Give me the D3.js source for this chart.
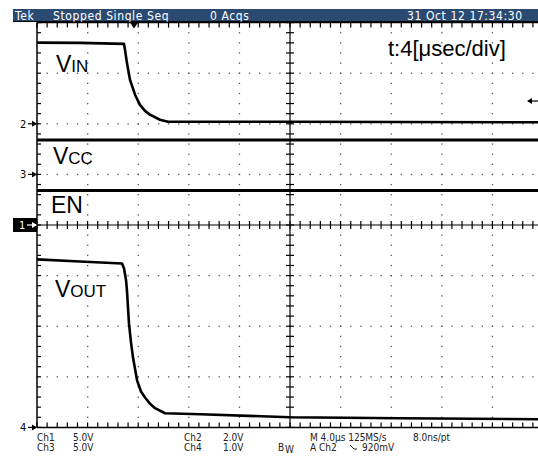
<!DOCTYPE html>
<html>
<head>
<meta charset="utf-8">
<script src="https://cdn.jsdelivr.net/npm/d3@7"></script>
<style>
  body { margin: 0; background: #fff; }
  svg { display: block; }
  .hdr { font-family: "Liberation Sans Narrow", "DejaVu Sans Condensed", sans-serif; font-size: 12px; fill: #fff; letter-spacing: 0.6px; }
  .foot { font-family: "Liberation Sans Narrow", "DejaVu Sans Condensed", sans-serif; font-size: 10px; fill: #222; }
  .lbl { font-family: "Liberation Sans", Arial, sans-serif; fill: #000; }
  .mk { font-family: "Liberation Sans Narrow", "DejaVu Sans Condensed", sans-serif; font-size: 11px; fill: #000; }
</style>
</head>
<body>
<div id="chart"></div>
<script>
// time in µs from left edge of screen, 4 µs/div
var vinT = [0, 3.4, 6.88, 6.96, 7.11, 7.35, 7.75, 8.14, 8.54, 8.93, 9.72, 10.36, 20, 40];
var vinV = [3.21, 3.20, 3.16, 2.92, 2.41, 1.74, 1.15, 0.75, 0.51, 0.36, 0.16, 0.08, 0.08, 0.06];

var vccT = [0, 40];
var vccV = [3.4, 3.4];

var enT = [0, 40];
var enV = [3.4, 3.4];

var voutT = [0, 3.4, 6.72, 6.88, 7.04, 7.11, 7.27, 7.43, 7.59, 7.91, 8.22, 8.54, 8.93, 9.33, 10.12, 12.9, 20, 28.7, 40];
var voutV = [3.32, 3.28, 3.24, 3.14, 2.91, 2.71, 2.06, 1.68, 1.38, 0.93, 0.71, 0.59, 0.47, 0.38, 0.28, 0.26, 0.20, 0.18, 0.16];

// channel settings: volts/div and marker position (div from centre)
var channels = [
  {name: "VIN",  ch: 2, vdiv: 2, offset: 2,  t: vinT,  v: vinV},
  {name: "VCC",  ch: 3, vdiv: 5, offset: 1,  t: vccT,  v: vccV},
  {name: "EN",   ch: 1, vdiv: 5, offset: 0,  t: enT,   v: enV},
  {name: "VOUT", ch: 4, vdiv: 1, offset: -4, t: voutT, v: voutV}
];

var headerTexts = [["Tek", 15], ["Stopped  Single Seq", 53], ["0 Acqs", 210], ["31 Oct 12 17:34:30", 407]];

var width = 538, height = 457;
var gLeft = 37, gRight = 543, gTop = 22.6, gBottom = 427.4;

var svg = d3.select("#chart").append("svg")
  .attr("width", width)
  .attr("height", height);

var x = d3.scaleLinear().domain([0, 40]).range([gLeft, gRight]);
var y = d3.scaleLinear().domain([-4, 4]).range([gBottom, gTop]);

// header bar
svg.append("rect").attr("x", 13).attr("y", 9).attr("width", width - 13).attr("height", 12.5).attr("fill", "#2b4a72");
svg.append("line").attr("x1", 13).attr("x2", width).attr("y1", 21.5).attr("y2", 21.5).attr("stroke", "#000").attr("stroke-width", 1);
svg.selectAll("text.hdr").data(headerTexts).enter().append("text")
  .attr("class", "hdr")
  .attr("x", d => d[1]).attr("y", 19.5)
  .text(d => d[0]);

var grid = svg.append("g");

// dotted graticule
var minorT = d3.range(0, 40.01, 0.8);
var minorD = d3.range(-4, 4.01, 0.2);
var divT = d3.range(4, 40, 4).filter(t => t !== 20);
var divD = d3.range(-3, 4, 1).filter(d => d !== 0);
divT.forEach(function(t) {
  grid.selectAll(null).data(minorD).enter().append("rect")
    .attr("x", x(t) - 0.6).attr("y", d => y(d) - 0.6)
    .attr("width", 1.3).attr("height", 1.3).attr("fill", "#555");
});
divD.forEach(function(dv) {
  grid.selectAll(null).data(minorT).enter().append("rect")
    .attr("x", t => x(t) - 0.6).attr("y", y(dv) - 0.6)
    .attr("width", 1.3).attr("height", 1.3).attr("fill", "#555");
});

// centre axes with ticks
grid.append("line").attr("x1", gLeft).attr("x2", width).attr("y1", y(0)).attr("y2", y(0)).attr("stroke", "#000").attr("stroke-width", 1.2);
grid.append("line").attr("x1", x(20)).attr("x2", x(20)).attr("y1", gTop).attr("y2", gBottom).attr("stroke", "#000").attr("stroke-width", 1.2);
grid.selectAll(null).data(minorT).enter().append("line")
  .attr("x1", t => x(t)).attr("x2", t => x(t))
  .attr("y1", y(0) - 4).attr("y2", y(0) + 4)
  .attr("stroke", "#000").attr("stroke-width", 1.2);
grid.selectAll(null).data(minorD).enter().append("line")
  .attr("x1", x(20) - 4).attr("x2", x(20) + 4)
  .attr("y1", d => y(d)).attr("y2", d => y(d))
  .attr("stroke", "#000").attr("stroke-width", 1.2);

// frame edges with ticks
grid.append("line").attr("x1", gLeft).attr("x2", width).attr("y1", gTop).attr("y2", gTop).attr("stroke", "#000").attr("stroke-width", 1.5);
grid.append("line").attr("x1", gLeft).attr("x2", width).attr("y1", gBottom).attr("y2", gBottom).attr("stroke", "#000").attr("stroke-width", 1.5);
grid.append("line").attr("x1", gLeft).attr("x2", gLeft).attr("y1", gTop).attr("y2", gBottom).attr("stroke", "#000").attr("stroke-width", 1.5);
grid.selectAll(null).data(minorT).enter().append("line")
  .attr("x1", t => x(t)).attr("x2", t => x(t))
  .attr("y1", gTop).attr("y2", gTop + 5)
  .attr("stroke", "#000").attr("stroke-width", 1.2);
grid.selectAll(null).data(minorT).enter().append("line")
  .attr("x1", t => x(t)).attr("x2", t => x(t))
  .attr("y1", gBottom).attr("y2", gBottom - 5)
  .attr("stroke", "#000").attr("stroke-width", 1.2);
grid.selectAll(null).data(minorD).enter().append("line")
  .attr("x1", gLeft).attr("x2", gLeft + 4)
  .attr("y1", d => y(d)).attr("y2", d => y(d))
  .attr("stroke", "#000").attr("stroke-width", 1.2);

// trigger position marker
var tx = x(7.67);
svg.append("path").attr("d", "M" + (tx - 4) + "," + gTop + "L" + (tx + 4) + "," + gTop + "L" + tx + "," + (gTop + 6) + "Z").attr("fill", "#000");
// trigger level marker on right
svg.append("line").attr("x1", 528).attr("x2", 538).attr("y1", 101).attr("y2", 101).attr("stroke", "#000").attr("stroke-width", 1.2);
svg.append("path").attr("d", "M527,101L532,98L532,104Z").attr("fill", "#000");

// channel markers on left
channels.forEach(function(c) {
  var yy = y(c.offset);
  if (c.ch === 1) {
    svg.append("rect").attr("x", 13).attr("y", yy - 7).attr("width", 24).attr("height", 14).attr("fill", "#000");
    svg.append("text").attr("class", "mk").attr("x", 19).attr("y", yy + 4).style("fill", "#fff").text("1");
    svg.append("line").attr("x1", 27).attr("x2", 36).attr("y1", yy).attr("y2", yy).attr("stroke", "#fff").attr("stroke-width", 1.2);
    svg.append("path").attr("d", "M37," + yy + "L32," + (yy - 3) + "L32," + (yy + 3) + "Z").attr("fill", "#fff");
  } else {
    svg.append("text").attr("class", "mk").attr("x", 20).attr("y", yy + 4).text(c.ch);
    svg.append("line").attr("x1", 28).attr("x2", 36).attr("y1", yy).attr("y2", yy).attr("stroke", "#000").attr("stroke-width", 1.2);
    svg.append("path").attr("d", "M37," + yy + "L32," + (yy - 3) + "L32," + (yy + 3) + "Z").attr("fill", "#000");
  }
});

// traces
var line = d3.line()
  .x(d => x(d[0]))
  .y(d => d[1]);
channels.forEach(function(c) {
  var pts = c.t.map((t, i) => [t, y(c.v[i] / c.vdiv + c.offset)]);
  svg.append("path")
    .attr("d", line(pts))
    .attr("fill", "none")
    .attr("stroke", "#000")
    .attr("stroke-width", c.name === "VOUT" || c.name === "VIN" ? 2.6 : 3)
    .attr("stroke-linejoin", "round");
});

// trace labels
function label(xp, yp, big, small) {
  var t = svg.append("text").attr("class", "lbl").attr("x", xp).attr("y", yp);
  t.append("tspan").attr("font-size", "23px").text(big);
  t.append("tspan").attr("font-size", "17px").text(small);
}
label(56, 72, "V", "IN");
label(53, 164, "V", "CC");
label(51, 213, "EN", "");
label(55, 297, "V", "OUT");

svg.append("text").attr("class", "lbl").attr("x", 388).attr("y", 56)
  .attr("font-size", "22px").text("t:4[μsec/div]");

// footer readouts
var foot = [
  ["Ch1", 37, 441], ["5.0V", 73, 441], ["Ch3", 37, 451], ["5.0V", 73, 451],
  ["Ch2", 184, 441], ["2.0V", 223, 441], ["Ch4", 184, 451], ["1.0V", 223, 451],
  ["M 4.0μs 125MS/s", 310, 441], ["8.0ns/pt", 413, 441],
  ["A  Ch2", 310, 451], ["920mV", 362, 451]
];
svg.selectAll("text.foot").data(foot).enter().append("text")
  .attr("class", "foot")
  .attr("x", d => d[1]).attr("y", d => d[2])
  .text(d => d[0]);
svg.append("text").attr("class", "foot").attr("x", 278).attr("y", 451).text("B");
svg.append("text").attr("class", "foot").attr("x", 285).attr("y", 453).attr("font-size", "7px").text("W");
// falling slope symbol
svg.append("path").attr("d", "M350,445L354,449L357,449").attr("fill", "none").attr("stroke", "#222").attr("stroke-width", 1);
</script>
</body>
</html>
